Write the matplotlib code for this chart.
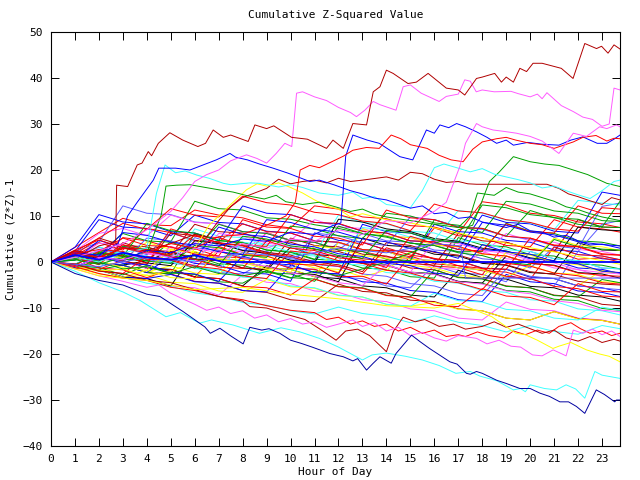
import matplotlib
matplotlib.use("Agg")
import matplotlib.pyplot as plt

# ---- colours (old gnuplot png palette look) ----
RED = '#ff0000'
GREEN = '#00a000'
BLUE = '#0000ff'
LBLUE = '#5a5aff'
MAGENTA = '#ff5aff'
CYAN = '#40ffff'
DRED = '#b00000'
YELLOW = '#ffff00'
BLACK = '#000000'
NAVY = '#0000a0'

# ---- hourly background walks: value at hours 0..23 and 23.75 ----
hours = list(range(24)) + [23.75]

red_bg = [
    [0, 3.2, 6.4, 9.5, 8.1, 7.9, 11.3, 10.2, 9.6, 8.1, 7.4, 12.2, 11.5, 9.8, 9.4, 7.9, 7.6, 6.2, 13.1, 12.4, 10.6, 10.1, 8.7, 8.3, 7.5],
    [0, 2.4, 0.8, 5.3, 4.6, 3.1, 2.9, 1.2, 0.9, 6.4, 4.7, 4.3, 2.6, 2.3, 1.1, 0.8, -0.9, -1.2, -2.8, 4.3, 2.7, 2.4, 0.6, 0.9, 0],
    [0, -1.3, -1.6, 0.4, -1.4, -1.7, -3.3, 2.4, 0.7, 0.4, -1.4, -1.6, -3.2, -3.1, -4.8, 1.3, -0.4, -0.8, -1.9, -2.2, -3.8, 3.3, 1.6, 1.3, 0.5],
    [0, 1.4, 4.2, 2.6, 7.3, 6.4, 4.7, 4.4, 8.3, 6.6, 6.3, 4.6, 4.3, 2.7, 2.4, 1.1, 7.4, 5.7, 5.3, 3.6, 3.3, 9.2, 7.6, 7.2, 6.5],
    [0, 0.8, -1.3, -1.7, -3.4, -1.6, -3.3, -3.6, -5.3, -5.6, -7.2, -3.7, -5.4, -5.7, -7.3, -7.6, -9.4, -9.7, -5.8, -7.4, -7.7, -9.3, -4.7, -6.4, -6.5],
    [0, 2.3, 1.2, 1.4, -0.3, 7.2, 5.6, 5.3, 3.7, 3.4, 10.3, 8.6, 8.4, 6.7, 6.3, 4.6, 4.4, 2.7, 2.4, 8.3, 6.6, 6.3, 12.2, 10.6, 10.5],
    [0, 1.8, 2.7, 2.3, 0.6, 0.4, -1.3, 3.4, 1.6, 1.3, -0.4, -0.7, -2.4, 4.3, 2.6, 2.3, 0.7, 0.3, -1.4, -1.6, 5.2, 3.6, 3.3, 1.6, 1.5],
    [0, -0.8, 2.3, 5.2, 3.6, 3.3, 1.7, 1.3, 9.2, 7.6, 7.3, 5.6, 5.2, 3.7, 11.3, 9.6, 9.2, 7.5, 7.3, 5.6, 5.2, 3.7, 3.4, 1.8, 1.5],
    [0, 1.1, -0.6, 3.8, 2.2, 1.6, 5.9, 4.1, 3.5, 1.8, 1.2, -0.4, -0.9, -2.6, 3.1, 1.5, 0.8, -0.8, -1.4, -3.1, -3.6, -5.3, -5.8, -7.4, -7.6],
    [0, 2.6, 4.8, 3.1, 2.7, 1.1, 0.6, -1.1, -1.4, 4.6, 3.0, 2.5, 0.9, 0.4, -1.2, 5.6, 4.0, 3.4, 1.8, 1.3, -0.3, -0.8, -2.4, -2.9, -3.1],
    [0, 1.6, 5.2, 8.4, 7.1, 11.6, 10.2, 9.8, 14.3, 12.9, 12.4, 10.8, 10.3, 8.9, 8.4, 6.8, 12.6, 11.1, 10.7, 9.2, 8.6, 7.2, 6.7, 11.8, 11.5],
    [0, -0.4, -1.9, -2.5, 1.2, 0.6, -0.9, -1.5, -3.0, -3.6, 2.4, 1.8, 0.3, -0.3, -1.8, -2.4, -3.9, -4.5, -6.0, -0.3, -0.9, -2.4, -3.0, -4.5, -4.8],
]
green_bg = [
    [0, 1.2, -0.3, -0.8, 3.2, 1.7, 1.3, -0.4, -0.7, -2.3, -2.6, -4.2, 1.4, -0.3, -0.6, -2.2, -2.5, -4.3, -4.6, -6.2, -6.5, -8.1, -8.4, -10.1, -10.5],
    [0, -1.3, -1.6, -0.7, -2.3, -2.6, 6.2, 4.6, 4.3, 2.6, 2.3, 0.6, 0.3, -1.3, -1.6, -3.2, -3.5, 5.3, 3.7, 3.3, 1.6, 1.3, -0.4, -0.7, -1.5],
    [0, 0.7, 2.3, 0.6, 0.3, 4.4, 13.2, 11.6, 11.3, 9.6, 9.3, 8.1, 7.3, 6.2, 5.4, 4.1, 3.6, 2.2, 2.3, 8.4, 6.7, 6.2, 4.6, 4.3, 3.5],
    [0, -0.8, -1.2, -2.8, -0.7, -2.4, -2.7, -4.3, -4.6, -1.8, -3.4, -3.7, -5.3, -5.6, -7.2, -7.6, -1.7, -3.4, -3.7, -5.3, -5.6, -7.3, -7.6, -3.8, -4.5],
    [0, 1.3, 1.7, 6.2, 4.6, 4.3, 2.7, 8.2, 6.6, 6.2, 4.7, 4.3, 2.6, 2.3, 0.6, 0.3, 9.2, 7.6, 7.3, 5.6, 11.2, 9.6, 9.3, 7.6, 7.5],
    [0, -0.6, 1.8, 1.2, 8.4, 6.8, 6.3, 4.7, 4.2, 2.6, 2.1, 0.5, 7.8, 6.2, 5.6, 4.1, 3.6, 2.0, 1.4, -0.1, -0.6, 4.9, 3.3, 2.8, 2.6],
    [0, 0.4, 2.1, 1.6, 0.2, -0.3, 3.6, 3.1, 1.5, 1.0, 7.8, 7.2, 5.7, 5.1, 10.6, 10.0, 8.5, 8.0, 6.4, 13.2, 12.6, 11.1, 10.6, 9.0, 8.8],
    [0, 0.8, 0.2, 3.4, 2.8, 1.3, 0.7, -0.8, 5.6, 5.0, 3.5, 2.9, 1.4, 0.8, 6.9, 6.3, 4.8, 4.2, 12.4, 11.8, 10.3, 9.7, 8.2, 7.6, 13.2],
]
blue_bg = [
    [0, 2.3, 9.2, 7.6, 7.3, 5.7, 10.2, 8.6, 8.3, 6.7, 6.3, 4.6, 4.3, 2.7, 2.3, 0.7, 8.2, 6.6, 6.3, 4.7, 4.3, 2.6, 2.3, 0.7, 0.5],
    [0, -1.3, -1.7, -3.2, -3.6, -2.7, -4.3, -4.6, -6.2, -6.5, -0.7, -2.3, -2.6, -4.3, -4.6, -6.2, -6.6, -8.2, -8.6, -2.7, -4.3, -4.7, -6.3, -6.6, -7.5],
    [0, 1.2, -0.3, -0.7, -2.3, 1.3, -0.3, -0.7, -2.3, -2.6, -4.2, 6.3, 4.7, 4.3, 2.6, 2.3, 0.6, 0.3, -1.3, -1.6, -3.3, -3.6, -5.2, -5.6, -6.5],
    [0, 3.2, 10.3, 8.7, 8.3, 6.6, 6.3, 4.7, 12.2, 10.6, 10.3, 8.6, 8.3, 6.7, 6.3, 4.6, 4.3, 2.7, 10.2, 8.6, 8.3, 6.7, 6.3, 15.2, 14.5],
    [0, -1.2, 1.3, -0.3, -0.6, -2.2, -2.6, -4.2, 1.3, -0.3, -0.6, -2.3, -2.6, 8.2, 6.6, 6.3, 4.6, 4.3, 2.7, 2.3, 0.7, 0.3, -1.3, -1.6, -2.5],
    [0, 0.4, 4.7, 3.1, 2.6, 1.0, 0.5, 7.6, 6.0, 5.5, 3.9, 3.3, 1.8, 1.2, -0.3, -0.8, -2.4, -2.9, 3.8, 2.2, 1.7, 0.1, -0.4, -2.0, -2.3],
    [0, 1.8, 1.2, 6.4, 5.8, 4.3, 3.7, 2.2, 1.6, 9.2, 8.6, 7.1, 6.5, 5.0, 4.4, 2.9, 2.3, 0.8, 8.6, 8.0, 6.5, 5.9, 4.4, 3.8, 3.5],
]
lblue_bg = [
    [0, 1.3, 3.2, 1.6, 1.3, -0.3, -0.7, -2.3, -2.6, 0.3, -1.3, -1.6, -3.3, -3.6, -5.2, -5.6, -0.8, -2.4, -2.7, -4.3, 2.3, 0.7, 0.3, -1.3, -1.5],
    [0, 2.2, 4.3, 12.2, 10.6, 10.3, 8.7, 8.3, 6.6, 6.3, 4.6, 4.3, 2.7, 6.2, 4.6, 4.3, 2.6, 2.3, 0.7, 0.3, -1.3, 3.2, 1.6, 1.3, 0.5],
    [0, 1.2, -0.3, 3.2, 1.6, 6.3, 4.7, 4.3, 2.6, 2.3, 0.7, 0.3, 4.2, 2.6, 2.3, 0.7, 0.3, -1.3, -1.7, -3.3, -3.6, -5.2, 2.3, 8.2, 9],
    [0, -0.7, 2.6, 2.0, 0.5, -0.1, 5.3, 3.7, 3.2, 1.6, 1.1, -0.5, -1.0, -2.6, -3.1, -4.7, -5.2, -6.8, -7.3, -1.5, -3.1, -3.6, -5.2, -5.7, -6.0],
    [0, 2.1, 1.5, 0.0, 5.2, 4.6, 3.1, 2.5, 1.0, 0.4, -1.1, 6.3, 5.7, 4.2, 3.6, 9.8, 9.2, 7.7, 7.1, 5.6, 5.0, 3.5, 2.9, 12.1, 12.8],
]
magenta_bg = [
    [0, -1.2, -1.7, -3.3, -3.6, -5.2, -5.6, -7.2, -2.8, -4.4, -4.7, -6.3, -6.6, -8.2, -8.6, -10.2, -10.6, -12.2, -12.6, -8.7, -10.3, -10.6, -12.2, -12.6, -13.5],
    [0, 1.3, 2.2, 3.3, 1.7, 1.3, 4.2, 2.6, 2.3, 6.2, 4.6, 4.3, 2.7, 2.3, 0.7, 0.3, -1.3, -1.6, 2.3, 0.7, 0.3, -1.3, -1.6, -3.2, -3.5],
    [0, 2.3, 6.2, 7.3, 5.7, 10.2, 8.6, 8.3, 6.6, 6.3, 4.7, 9.2, 7.6, 7.3, 5.7, 5.3, 3.6, 3.3, 1.7, 6.2, 4.6, 4.3, 2.7, 2.3, 1.5],
    [0, -0.9, 0.8, 0.2, -1.4, 3.4, 1.8, 1.2, -0.3, -0.9, -2.4, -3.0, -4.5, -5.1, -0.6, -2.2, -2.7, -4.3, -4.8, -6.3, -6.9, -8.4, -9.0, -10.5, -10.8],
    [0, 0.6, 4.1, 3.5, 2.0, 1.4, -0.1, 6.2, 5.6, 4.1, 3.5, 2.0, 1.4, -0.1, -0.7, -2.2, 4.6, 4.0, 2.5, 1.9, 0.4, -0.2, -1.7, -2.3, -2.6],
]
cyan_bg = [
    [0, -1.2, -1.8, -3.3, -4.6, -5.3, -6.7, -7.4, -8.8, -9.4, -10.6, -11.3, -9.8, -11.2, -11.8, -13.2, -11.7, -13.1, -13.8, -15.2, -13.8, -15.1, -15.7, -13.8, -14.5],
    [0, 1.3, -0.3, -0.6, 2.3, 0.7, 0.3, 5.2, 3.6, 3.3, 1.7, 1.3, -0.3, -0.7, -2.3, -2.6, -4.2, -4.6, -6.2, -6.6, -8.2, -8.5, -10.2, -10.6, -11.5],
    [0, -0.7, -1.3, 2.2, 0.6, 0.3, -1.3, -1.7, -3.3, -3.6, -5.2, -5.6, -7.2, -7.6, -9.2, -9.6, -6.8, -8.4, -8.7, -10.3, -10.6, -12.2, -12.6, -9.8, -10.5],
    [0, 1.2, 3.3, 1.7, 1.3, -0.3, 7.2, 5.6, 5.3, 3.7, 3.3, 1.7, 10.2, 8.6, 8.3, 6.7, 6.3, 4.6, 4.3, 2.7, 2.3, 0.7, 0.3, -1.3, -1.5],
    [0, -0.6, 2.8, 2.2, 0.7, 0.1, -1.4, -2.0, 4.3, 3.7, 2.2, 1.6, 0.1, 7.5, 6.9, 5.4, 4.8, 11.2, 10.6, 9.1, 8.5, 7.0, 13.4, 12.8, 12.4],
]
dred_bg = [
    [0, 1.2, -0.3, -0.7, -2.3, -2.6, -4.2, -4.6, -6.2, -6.6, -8.2, -8.6, -4.8, -6.4, -6.7, -8.3, -8.6, -10.2, -10.6, -12.2, -12.6, -10.8, -12.3, -12.7, -13.5],
    [0, 2.3, 5.2, 3.6, 3.3, 1.7, 8.2, 6.6, 6.3, 4.7, 4.3, 2.7, 2.3, 0.7, 0.3, -1.3, -1.7, -3.3, -3.6, -5.2, -5.6, -7.2, -7.6, -9.2, -9.5],
    [0, 1.2, -0.3, 4.2, 2.6, 2.3, 0.7, 0.3, -1.3, -1.6, 5.2, 3.6, 3.3, 1.7, 1.3, -0.3, -0.7, 6.2, 4.6, 4.3, 2.7, 2.3, 9.2, 7.6, 7.5],
    [0, 2.2, 1.6, 0.1, -0.5, 6.3, 5.7, 4.2, 3.6, 2.1, 1.5, 0.0, -0.6, -2.1, 4.2, 3.6, 2.1, 1.5, 0.0, -0.6, -2.1, -2.7, -4.2, -4.8, -5.0],
]
yellow_bg = [
    [0, -1.2, -2.6, -3.3, -2.8, -4.4, -4.7, -6.3, -6.6, -3.8, -5.4, -5.7, -7.3, -7.6, -9.2, -9.6, -8.8, -10.3, -10.6, -12.2, -12.6, -10.8, -12.4, -12.7, -13.5],
    [0, 1.2, -0.3, -0.7, -2.2, -0.8, -2.4, -2.7, 2.2, 0.6, 0.3, -1.3, -1.6, -3.2, -1.8, 2.3, 0.7, 0.3, -1.3, -1.6, -3.2, -3.6, -5.2, -1.8, -2.5],
    [0, 0.7, 2.2, 0.6, 4.3, 2.7, 2.3, 0.7, 0.3, -1.3, -1.6, -3.2, 4.3, 2.7, 2.3, 0.6, 0.3, -1.3, -1.7, -3.3, -0.8, -2.4, -2.7, -4.3, -4.5],
    [0, -1.2, -1.7, -3.3, -1.8, -3.4, -3.7, 3.2, 1.6, 1.3, -0.3, -0.7, -2.2, 7.2, 5.6, 5.3, 3.7, 3.3, 1.7, 1.3, -0.3, 5.2, 3.6, 3.3, 2.5],
    [0, 0.9, 0.3, -1.2, -1.8, 2.6, 2.0, 0.5, -0.1, -1.6, -2.2, 3.5, 2.9, 1.4, 0.8, -0.7, -1.3, -2.8, -3.4, 2.1, 1.5, 0.0, -0.6, -2.1, -2.3],
]
black_bg = [
    [0, -1.2, -1.7, -3.3, -3.6, -5.2, 2.2, 0.6, 0.3, -1.3, -1.6, -3.2, -3.6, -5.2, -5.6, -7.2, -7.6, -1.8, -3.4, -3.7, -5.3, -5.6, -7.2, -7.6, -8.5],
    [0, 1.2, -0.3, -0.7, 0.3, 2.2, 0.6, 0.3, -1.3, -1.7, 3.2, 1.6, 1.3, -0.3, -0.7, -2.3, -2.6, -4.2, -4.6, 1.3, -0.3, -0.7, -2.3, -2.6, -3.5],
    [0, 2.2, 0.6, 0.3, -1.3, -1.6, -3.2, -3.6, -5.2, -0.8, -2.4, -2.7, -4.3, 5.2, 3.6, 3.3, 1.7, 1.3, -0.3, -0.7, -2.3, -2.6, 4.2, 2.6, 2.5],
    [0, -0.5, 1.9, 1.3, -0.2, -0.8, 4.6, 4.0, 2.5, 1.9, 0.4, -0.2, 9.3, 8.7, 7.2, 6.6, 5.1, 4.5, 3.0, 2.4, 0.9, 0.3, 7.6, 7.0, 6.8],
]

# ---- outer walks (hour, value) ----
dred_top_h = [0, 0.5, 1, 1.5, 2, 2.4, 2.7, 2.74, 3.2, 3.6, 3.8, 4.06, 4.2, 4.48, 4.96, 5.5, 6.13, 6.45,
              6.77, 7.19, 7.5, 8.23, 8.51, 9.0, 9.3, 10.04, 10.7, 11.5, 11.77, 12.2, 12.6, 13.17, 13.45,
              13.73, 14.0, 14.28, 14.9, 15.25, 15.74, 16.5, 17.0, 17.27, 17.76, 18.0, 18.52, 18.8, 19.0,
              19.3, 19.57, 19.85, 20.12, 20.5, 21.3, 21.79, 22.28, 22.77, 22.98, 23.25, 23.5, 23.75]
dred_top_v = [0, 1.2, 2.5, 2.0, 3.5, 4.0, 4.5, 16.7, 16.4, 21.1, 21.5, 24.0, 23.1, 25.8, 28.1, 26.5, 25.1, 25.8,
              28.7, 27.1, 27.6, 26.2, 29.8, 29.0, 29.6, 27.1, 26.7, 24.7, 26.5, 24.7, 30.1, 29.8, 37.0,
              38.1, 41.7, 41.0, 38.8, 39.1, 41.0, 37.8, 37.4, 36.3, 39.9, 40.2, 41.0, 39.1, 40.2,
              39.1, 42.1, 41.4, 43.2, 43.2, 42.1, 39.9, 47.5, 46.4, 46.9, 45.4, 47.2, 46.3]

mag_top_h = [0, 1, 2, 3, 4, 5, 5.5, 6, 6.5, 7, 7.5, 8.16, 8.6, 9.0, 9.4, 9.76, 10.05, 10.25, 10.5, 11,
             11.5, 12, 12.5, 12.75, 13.1, 13.45, 13.73, 14.4, 14.7, 15, 15.45, 16.2, 16.5, 17, 17.27,
             17.5, 17.75, 18, 18.5, 19.2, 19.5, 20, 20.3, 20.5, 20.7, 21.3, 21.8, 22.2, 22.6, 23, 23.3,
             23.5, 23.75]
mag_top_v = [0, 1, 2.5, 4, 7, 11, 14, 17.5, 19, 20, 22, 23.3, 22.5, 21.5, 23.6, 25.8, 25.1, 36.7, 37.0, 35.9,
             35.1, 33.6, 32.5, 31.6, 33.0, 34.9, 34.2, 33.0, 38.1, 38.5, 36.7, 34.9, 36.0, 36.5, 39.6,
             39.3, 37.0, 37.4, 37.0, 37.1, 36.6, 35.9, 36.5, 35.5, 36.8, 34.0, 32.7, 31.5, 31.0, 29.5, 30.0,
             37.8, 37.4]

mag_hi_h = [0, 1, 2, 3, 4, 5, 6, 7, 8, 9, 10, 11, 12, 13, 14, 15, 16, 16.5, 17.06, 17.3, 17.76, 18.0,
            18.45, 18.9, 19.43, 20.0, 20.5, 21.2, 21.8, 22.35, 22.9, 23.2, 23.6, 23.75]
mag_hi_v = [0, -1, 1, 0.5, 2, 1, 3, 2, 4, 3, 5, 4.5, 7, 6, 9, 8.5, 11, 13, 20.7, 25.8, 30.1, 29.4,
            28.7, 28.4, 28.0, 27.3, 26.3, 23.6, 28.0, 27.3, 29.4, 29.0, 29.8, 29.4]

red_hi_h = [0, 1, 2, 3, 4, 5, 6, 7, 8, 9, 9.8, 10.2, 10.4, 10.8, 11.2, 11.6, 12.2, 12.6, 13.17, 13.7, 14.2,
            14.6, 15.0, 15.7, 16.2, 16.7, 17.2, 17.6, 18.0, 18.6, 19.0, 19.4, 20.0, 20.5, 21.0, 21.8,
            22.2, 22.75, 23.2, 23.5, 23.75]
red_hi_v = [0, 2, 1, 3, 2, 4, 3, 5.5, 6, 8, 10, 13, 20, 21, 20.5, 21.5, 23.0, 24.3, 24.9, 24.7, 27.6,
            26.8, 25.5, 24.7, 23.2, 22.2, 21.8, 24.5, 26.1, 26.8, 27.1, 26.5, 25.8, 25.5, 24.7, 26.1,
            27.1, 27.5, 26.3, 26.9, 26.8]

blue_a_h = [0, 1, 2, 2.8, 3.2, 3.6, 4.27, 4.5, 5.2, 5.8, 6.9, 7.47, 7.7, 8.2, 8.7, 9.27, 9.9, 10.8, 11.2,
            11.8, 12.5, 13, 13.5, 14, 14.5, 15, 15.5, 16, 16.5, 17, 17.5, 18, 19, 19.5, 20, 20.5, 21,
            21.5, 22, 22.5, 23, 23.75]
blue_a_v = [0, 2, 1.5, 4, 10, 13, 17.8, 20.4, 20.4, 20.0, 22.2, 23.6, 22.8, 22.2, 21.3, 20.4, 19.3, 17.5, 17.8,
            16.8, 15.5, 14.8, 13.9, 13.5, 12.6, 11.7, 12.2, 10.5, 10.8, 9.5, 9.8, 8.7, 7.5, 8.2, 6.8, 6.5, 5.4,
            5.8, 4.6, 3.7, 3.9, 3.0]

blue_b_h = [0, 1, 2, 3, 4, 5, 6, 7, 8, 9, 10, 11, 11.8, 12.1, 12.3, 12.6, 13.2, 13.7, 14.56, 15.1, 15.67,
            16.0, 16.23, 16.6, 16.93, 17.3, 17.76, 18.2, 18.6, 19.0, 19.3, 19.9, 20.5, 21.2, 21.7, 22.2,
            22.5, 22.8, 23.2, 23.5, 23.75]
blue_b_v = [0, -1, 1, 0.5, 2.5, 2, 4, 3.5, 5, 4.5, 6.5, 6, 8, 8.5, 23, 27.6, 26.5, 25.8, 22.9, 22.2, 28.7,
            28.0, 29.8, 29.2, 30.1, 29.4, 28.3, 27.1, 25.8, 26.5, 25.4, 26.0, 25.6, 25.4, 26.5, 27.2,
            26.5, 25.8, 25.8, 26.7, 27.6]

cyan_hi_h = [0, 1, 2, 3, 4, 4.4, 4.76, 5.2, 5.6, 6.08, 6.6, 7.2, 7.5, 8.3, 8.7, 9.5, 10, 10.5, 11.2, 12,
             12.6, 13, 13.5, 14, 15, 15.5, 16, 16.4, 17, 17.5, 18, 18.5, 19, 19.5, 20, 20.5, 21, 21.5,
             22, 22.5, 23, 23.5, 23.75]
cyan_hi_v = [0, 1, 0, 2, 3, 14.9, 21.1, 19.4, 19.8, 18.9, 18.2, 17.1, 16.8, 17.2, 17.1, 16.3, 16.8, 16.2,
             15.0, 14.5, 15.2, 13.8, 14.2, 12.5, 11.8, 15.5, 20.5, 21.3, 20.4, 19.6, 20.3, 19.1, 18.5,
             17.9, 17.2, 16.1, 16.5, 15.5, 14.6, 13.8, 15.5, 17.5, 17.8]

green_a_h = [0, 1, 2, 3, 4, 4.6, 4.8, 5.24, 5.8, 6.23, 7.0, 7.6, 8.2, 8.9, 9.4, 9.8, 10.5, 11.2, 12, 12.5,
             13, 13.5, 14, 15, 16, 17, 17.5, 17.8, 18.5, 19, 19.5, 20, 20.5, 21, 21.5, 22, 22.5, 23, 23.75]
green_a_v = [0, 0.5, -0.5, 1, 2, 10.2, 16.5, 16.7, 16.8, 16.4, 15.7, 15.2, 14.4, 13.7, 14.5, 13.1, 12.5,
             13.0, 11.8, 11.0, 11.5, 10.4, 9.8, 9.0, 8.2, 7.5, 10.0, 15.0, 14.5, 16.2, 15.2, 14.8, 14.0,
             13.2, 12.0, 11.4, 10.5, 9.8, 9.0]

green_b_h = [0, 1, 2, 3, 4, 5, 6, 7, 8, 9, 10, 11, 12, 13, 14, 15, 16, 16.5, 17, 17.6, 17.9, 18.3, 18.7,
             19.3, 20, 20.6, 21.2, 21.8, 22.4, 23.2, 23.75]
green_b_v = [0, -1, 0, -1.5, -1, -2.5, -1, -2.5, -3, -2, -3.5, -2, -3, -1.5, 0, 2, 4, 5, 7, 8, 12, 17.5,
             19.5, 22.9, 21.8, 21.3, 21.0, 20, 19, 17.1, 16.4]

yellow_hi_h = [0, 1, 2, 3, 4, 5, 5.5, 6, 6.6, 7, 7.5, 8.16, 8.6, 9, 9.5, 10, 10.5, 11, 11.5, 12, 12.5,
               13, 14, 15, 16, 17, 18, 19, 20, 21, 22, 23, 23.75]
yellow_hi_v = [0, -1, -2, -1.5, -3, -2, -1, 3, 8, 10, 12.5, 15.7, 17, 16.5, 17.2, 16.2, 15, 13.5, 12.2,
               11.5, 9.8, 10.5, 9.2, 8.5, 7.4, 6.3, 5.2, 4.1, 3.1, 2.2, 1.2, 0.3, -0.5]

dred_flat_h = [0, 1, 2, 3, 4, 5, 6, 6.5, 7, 7.5, 8, 9, 9.5, 10, 10.5, 11, 11.5, 12, 12.5, 13, 14, 14.5, 15,
               15.5, 16, 16.5, 17, 17.4, 17.76, 20.7, 21.2, 21.6, 22, 22.5, 23, 23.4, 23.75]
dred_flat_v = [0, 1.5, 1, 3, 2.5, 4, 6, 5.5, 9, 12, 14, 16, 18, 17, 17.5, 17.8, 17.2, 18.2, 17.5, 17.8,
               18.5, 17.8, 19.5, 19.2, 18, 17.3, 17.5, 17.0, 16.9, 16.9, 16, 14.8, 14.2, 13.3, 12.5, 14,
               13.5]

navy_low_h = [0, 1, 2, 3, 4, 4.55, 5.52, 6.42, 6.65, 7.05, 7.54, 8.02, 8.3, 8.8, 9.1, 9.55, 10.0, 10.45,
              10.9, 11.64, 12.2, 12.6, 12.8, 13.17, 13.45, 13.73, 14.2, 14.4, 15.05, 15.4, 15.8, 16.65,
              16.95, 17.34, 17.5, 17.76, 18.0, 18.6, 19.0, 19.57, 20.0, 20.4, 20.8, 21.24, 21.6, 21.93,
              22.28, 22.76, 23.1, 23.53, 23.6, 23.75]
navy_low_v = [0, -2.5, -4, -5, -7, -7.5, -10.8, -14.1, -15.5, -14.4, -16.2, -17.8, -14.2, -14.8, -14.5,
              -15.5, -17.0, -17.7, -18.5, -19.9, -20.6, -21.5, -21.0, -23.5, -22.0, -20.6, -22.0, -19.9,
              -15.9, -17.3, -18.8, -21.7, -22.2, -24.2, -24.4, -23.8, -24.2, -25.7, -26.4, -27.5, -27.5,
              -28.5, -29.2, -30.4, -30.4, -31.4, -32.9, -27.8, -28.8, -30.4, -30.0, -30.0]

cyan_low_h = [0, 1, 2, 3, 3.7, 4.8, 5.4, 6.2, 6.7, 7.6, 8.7, 9.6, 10.4, 11.2, 12, 13, 13.4, 14, 14.8, 15.5,
              16.2, 16.9, 17.5, 17.9, 18.6, 19.3, 19.6, 19.8, 20, 20.6, 21.1, 21.5, 21.9, 22.28, 22.7, 23,
              23.75]
cyan_low_v = [0, -2, -4.5, -6.5, -8.3, -11.9, -11.0, -13.3, -12.6, -13.7, -15.5, -14.3, -15.2, -16.6, -18.5,
              -21.3, -20.2, -19.8, -20.5, -21.3, -22.5, -24.2, -23.8, -24.8, -25.8, -27.8, -27.5, -28.2,
              -26.7, -27.5, -27.8, -26.7, -27.6, -29.6, -23.8, -24.6, -25.3]

yellow_low_h = [0, 2, 4, 6, 8, 10, 12, 14, 16, 17, 18.4, 19.4, 19.8, 20.3, 20.95, 21.2, 21.7, 22.35, 22.9,
                23.3, 23.75]
yellow_low_v = [0, -3, -4, -6, -5.5, -7, -8, -9.5, -10, -9, -11.9, -15.5, -15.8, -17.0, -18.8, -18.3,
                -17.5, -19.1, -20.0, -20.5, -21.7]

mag_low_h = [0, 1, 2, 3, 4, 4.5, 5, 5.5, 6, 6.5, 7, 7.5, 8, 8.5, 9, 9.5, 10, 10.5, 11, 11.5, 12, 12.6, 13,
             13.5, 14, 14.5, 15, 15.5, 16, 16.5, 17, 17.76, 18.2, 18.7, 19.2, 19.6, 20.1, 20.5, 20.96,
             21.5, 21.8, 22.2, 22.6, 23, 23.4, 23.75]
mag_low_v = [0, -1.5, -3, -4.2, -5.5, -5, -6.8, -8, -9.2, -10.5, -9.8, -11.2, -10.6, -12.2, -11.5, -13,
             -12.3, -13.5, -13, -14.2, -13.5, -12.6, -14, -13.2, -15, -14.2, -16, -15.3, -16.5, -17.2, -16,
             -16.6, -17.8, -17.0, -18.3, -18.5, -20.2, -20.4, -19.1, -20.4, -14.8, -15.5, -14.6, -15.8,
             -15.0, -16.2]

red_low_h = [0, 1, 2, 3, 4, 5, 6, 7, 8, 9, 10, 11, 11.5, 12, 12.5, 13, 13.5, 14, 14.5, 15, 15.5, 16, 16.5,
             17, 17.3, 17.8, 18.3, 18.9, 19.3, 19.8, 20.3, 20.8, 21.2, 21.7, 22.1, 22.5, 23, 23.4, 23.75]
red_low_v = [0, -1, -2.5, -3.5, -4, -5.5, -6.2, -7.5, -8.2, -9.5, -10.5, -11, -12.5, -12, -13.5, -12.8, -14,
             -13.5, -15, -14.2, -15.5, -14.8, -16.2, -15.8, -16.2, -15.2, -16.0, -16.5, -15.0, -15.8,
             -14.8, -15.5, -14.0, -13.2, -14.5, -15.5, -15.0, -16, -15.5]

dred_low_h = [0, 1, 2, 3, 4, 5, 6, 7, 8, 8.3, 9, 9.7, 10.6, 11.2, 11.9, 12.3, 12.8, 13.3, 13.7, 14.0, 14.3,
              14.7, 15.2, 15.6, 16.2, 16.8, 17.3, 18, 18.5, 19, 19.5, 20, 20.5, 21, 21.5, 22, 22.5, 23,
              23.5, 23.75]
dred_low_v = [0, -0.5, -2, -2.5, -4, -4.5, -6, -7.5, -8.5, -9.7, -10, -11.2, -12.5, -14.5, -17.0, -15,
              -14.6, -16, -18, -19.5, -15, -12, -13, -12.5, -14, -13.5, -14.6, -14, -13, -14.2, -13.5,
              -14.5, -15.5, -14.8, -16.5, -17.2, -16.2, -17.5, -16.8, -17.2]

blue_flat_h = [0, 1, 2, 3, 4, 5, 6, 7.2, 23.75]
blue_flat_v = [0, 1.5, 0.5, 2, 1, 0.5, 1.5, 0, 0]

lblue_flat_h = [0, 2, 4, 6, 8, 10, 12, 14, 16, 17.1, 17.3, 23.75]
lblue_flat_v = [0, -1, 1, 0, 2, 1, 3, 2, 4, 3.5, -3.5, -3.5]

x_ticks = list(range(24))
y_ticks = [-40, -30, -20, -10, 0, 10, 20, 30, 40, 50]

FONT = 'DejaVu Sans Mono'

fig = plt.figure(figsize=(6.4, 4.8), dpi=100)
ax = fig.add_axes([51 / 640, 1 - 446 / 480, (620 - 51) / 640, (446 - 32) / 480])

lw = 0.7

groups = [(red_bg, RED), (green_bg, GREEN), (blue_bg, BLUE), (lblue_bg, LBLUE),
          (magenta_bg, MAGENTA), (cyan_bg, CYAN), (dred_bg, DRED), (yellow_bg, YELLOW),
          (black_bg, BLACK)]
# interleave so colours overlap the way gnuplot draws its many curves
n_max = max(len(g) for g, _ in groups)
for i in range(n_max):
    for series, col in groups:
        if i < len(series):
            ax.plot(hours, series[i], color=col, lw=lw)

outer = [
    (dred_flat_h, dred_flat_v, DRED), (yellow_hi_h, yellow_hi_v, YELLOW),
    (green_a_h, green_a_v, GREEN), (green_b_h, green_b_v, GREEN),
    (cyan_hi_h, cyan_hi_v, CYAN), (blue_a_h, blue_a_v, BLUE),
    (blue_b_h, blue_b_v, BLUE), (red_hi_h, red_hi_v, RED),
    (mag_hi_h, mag_hi_v, MAGENTA), (mag_top_h, mag_top_v, MAGENTA),
    (dred_top_h, dred_top_v, DRED),
    (red_low_h, red_low_v, RED), (dred_low_h, dred_low_v, DRED),
    (mag_low_h, mag_low_v, MAGENTA), (yellow_low_h, yellow_low_v, YELLOW),
    (cyan_low_h, cyan_low_v, CYAN), (navy_low_h, navy_low_v, NAVY),
    (lblue_flat_h, lblue_flat_v, LBLUE),
]
for hx, vy, col in outer:
    ax.plot(hx, vy, color=col, lw=lw)
ax.plot(blue_flat_h, blue_flat_v, color=BLUE, lw=1.3)

ax.set_xlim(0, 23.75)
ax.set_ylim(-40, 50)
ax.set_xticks(x_ticks)
ax.set_yticks(y_ticks)
ax.tick_params(direction='in', length=6, width=0.7, top=True, right=True,
               labeltop=False, labelright=False, labelsize=8, pad=6)
for lab in ax.get_xticklabels() + ax.get_yticklabels():
    lab.set_family(FONT)
for s in ax.spines.values():
    s.set_linewidth(0.8)

fig.text(335.5 / 640, 1 - 15 / 480, 'Cumulative Z-Squared Value', ha='center', va='center',
         family=FONT, fontsize=8)
fig.text(335.5 / 640, 1 - 472 / 480, 'Hour of Day', ha='center', va='center',
         family=FONT, fontsize=8)
fig.text(11 / 640, 1 - 239 / 480, 'Cumulative (Z*Z)-1', ha='center', va='center',
         rotation=90, family=FONT, fontsize=8)

fig.savefig('out.png', dpi=100)
